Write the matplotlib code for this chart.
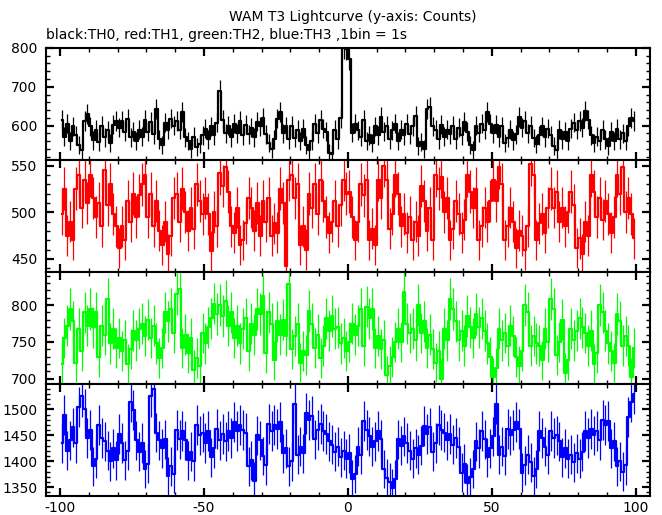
import numpy as np
import matplotlib
matplotlib.use('Agg')
import matplotlib.pyplot as plt
from matplotlib.ticker import MultipleLocator

# time bins, 1 s each
binStart = -99.5
binCount = 200

th0Counts = [
    615, 572, 605, 560, 598, 575, 550, 538, 612, 630,
    598, 562, 590, 558, 600, 570, 588, 555, 603, 612,
    595, 612, 585, 618, 570, 585, 560, 590, 572, 615,
    585, 610, 578, 642, 565, 550, 608, 590, 618, 600,
    612, 590, 635, 570, 560, 540, 572, 545, 552, 575,
    592, 565, 598, 575, 608, 690, 615, 580, 600, 570,
    605, 580, 612, 575, 602, 578, 595, 570, 610, 598,
    620, 578, 555, 540, 565, 618, 635, 580, 598, 565,
    600, 568, 590, 560, 592, 550, 538, 560, 605, 580,
    615, 592, 585, 530, 528, 590, 565, 620, 800, 798,
    772, 582, 605, 588, 572, 615, 560, 575, 555, 598,
    575, 622, 585, 600, 565, 588, 605, 560, 590, 575,
    605, 578, 598, 625, 548, 558, 540, 642, 648, 598,
    590, 565, 602, 572, 590, 578, 600, 565, 595, 575,
    610, 585, 550, 538, 600, 582, 605, 590, 635, 605,
    580, 602, 570, 598, 555, 568, 590, 562, 578, 622,
    595, 612, 580, 600, 568, 552, 575, 598, 570, 592,
    575, 548, 538, 590, 565, 585, 560, 592, 608, 590,
    612, 595, 638, 615, 575, 555, 572, 560, 590, 565,
    548, 585, 560, 592, 565, 580, 560, 598, 620, 612,
]

th1Counts = [
    498, 525, 475, 490, 470, 525, 540, 505, 535, 510,
    540, 515, 495, 510, 485, 545, 508, 530, 498, 485,
    462, 485, 470, 512, 490, 520, 495, 518, 530, 540,
    495, 520, 485, 512, 480, 465, 490, 455, 475, 515,
    520, 490, 525, 500, 480, 505, 482, 530, 512, 498,
    515, 498, 458, 500, 485, 542, 528, 548, 522, 485,
    478, 505, 465, 470, 488, 515, 505, 480, 510, 475,
    512, 490, 515, 475, 488, 478, 525, 510, 442, 535,
    540, 515, 530, 465, 485, 460, 520, 505, 530, 498,
    535, 512, 495, 478, 490, 512, 485, 508, 535, 520,
    522, 495, 470, 490, 530, 518, 535, 470, 482, 465,
    535, 515, 550, 535, 482, 498, 540, 520, 485, 498,
    478, 495, 470, 490, 475, 528, 512, 480, 505, 470,
    540, 525, 538, 500, 515, 470, 482, 512, 498, 478,
    492, 540, 522, 505, 525, 470, 485, 505, 490, 512,
    535, 512, 548, 530, 470, 485, 505, 490, 462, 480,
    475, 460, 485, 552, 540, 470, 488, 498, 478, 505,
    525, 505, 522, 490, 505, 485, 500, 522, 508, 462,
    472, 455, 490, 475, 540, 522, 495, 515, 492, 512,
    498, 478, 495, 540, 520, 548, 500, 515, 498, 472,
]

th2Counts = [
    720, 755, 772, 795, 778, 722, 768, 738, 790, 772,
    795, 770, 790, 730, 772, 760, 808, 748, 768, 742,
    755, 738, 752, 720, 740, 765, 752, 768, 775, 758,
    780, 755, 772, 748, 728, 742, 790, 778, 795, 762,
    815, 822, 742, 760, 735, 755, 712, 728, 718, 762,
    748, 770, 782, 802, 788, 800, 785, 805, 772, 790,
    755, 772, 748, 768, 782, 738, 775, 760, 795, 788,
    812, 735, 790, 775, 725, 778, 760, 780, 758, 828,
    740, 758, 775, 722, 738, 732, 792, 775, 742, 760,
    728, 745, 782, 765, 785, 768, 770, 748, 755, 738,
    750, 775, 760, 772, 795, 745, 798, 782, 795, 742,
    758, 740, 752, 705, 718, 730, 750, 768, 750, 818,
    775, 762, 768, 752, 800, 762, 778, 742, 760, 740,
    722, 738, 700, 768, 752, 808, 795, 778, 752, 765,
    745, 785, 770, 755, 788, 770, 782, 765, 748, 730,
    702, 715, 768, 752, 762, 745, 772, 758, 730, 718,
    738, 800, 790, 745, 758, 748, 745, 725, 768, 750,
    808, 795, 732, 750, 780, 708, 725, 768, 752, 765,
    782, 770, 762, 745, 765, 720, 735, 800, 790, 765,
    748, 738, 722, 788, 778, 745, 758, 745, 702, 742,
]

th3Counts = [
    1435, 1490, 1420, 1440, 1465, 1435, 1505, 1525, 1500, 1445,
    1460, 1390, 1405, 1470, 1445, 1438, 1420, 1400, 1425, 1402,
    1452, 1435, 1402, 1420, 1515, 1498, 1440, 1418, 1435, 1385,
    1395, 1525, 1540, 1455, 1440, 1425, 1442, 1372, 1390, 1375,
    1460, 1442, 1458, 1440, 1402, 1418, 1400, 1470, 1450, 1455,
    1435, 1458, 1408, 1425, 1462, 1440, 1452, 1438, 1458, 1445,
    1475, 1458, 1470, 1460, 1455, 1390, 1402, 1362, 1450, 1440,
    1410, 1392, 1472, 1458, 1470, 1462, 1475, 1415, 1425, 1390,
    1400, 1510, 1412, 1428, 1415, 1492, 1480, 1488, 1442, 1460,
    1472, 1458, 1452, 1438, 1432, 1418, 1428, 1408, 1420, 1405,
    1415, 1365, 1375, 1428, 1412, 1478, 1460, 1448, 1428, 1438,
    1458, 1442, 1385, 1368, 1360, 1348, 1365, 1442, 1430, 1448,
    1435, 1420, 1405, 1425, 1412, 1430, 1468, 1452, 1465, 1418,
    1435, 1470, 1460, 1455, 1440, 1452, 1432, 1445, 1428, 1378,
    1395, 1358, 1370, 1385, 1438, 1425, 1458, 1442, 1408, 1425,
    1448, 1510, 1412, 1428, 1410, 1462, 1450, 1460, 1475, 1462,
    1378, 1392, 1412, 1398, 1372, 1385, 1458, 1445, 1428, 1412,
    1458, 1445, 1450, 1438, 1408, 1425, 1405, 1412, 1398, 1415,
    1405, 1418, 1458, 1445, 1462, 1450, 1458, 1440, 1480, 1470,
    1478, 1425, 1438, 1390, 1400, 1380, 1392, 1485, 1515, 1530,
]

panelColors = ['black', '#ff0000', '#00ff00', '#0000ff']
panelLimits = [(512, 800), (436, 556), (693, 845), (1333, 1549)]
panelMajor = [100, 50, 50, 50]
panelMinor = [20, 10, 10, 10]
xTickValues = [-100, -50, 0, 50, 100]


def drawPanel(ax, counts, color, ylim, major, minor):
    t = binStart + np.arange(binCount)
    counts = np.array(counts, dtype=float)
    err = np.sqrt(counts)
    ax.vlines(t, counts - err, counts + err, color=color, linewidth=0.9)
    ax.plot(t, counts, drawstyle='steps-mid', color=color, linewidth=1.6)
    ax.set_xlim(-105, 105)
    ax.set_ylim(*ylim)
    ax.yaxis.set_major_locator(MultipleLocator(major))
    ax.yaxis.set_minor_locator(MultipleLocator(minor))
    ax.xaxis.set_major_locator(MultipleLocator(50))
    ax.xaxis.set_minor_locator(MultipleLocator(10))
    ax.tick_params(which='both', direction='in', top=True, right=True, labelsize=10)
    ax.tick_params(axis='y', pad=6)
    ax.tick_params(which='major', length=6, width=1.6)
    ax.tick_params(which='minor', length=3, width=1)
    for s in ax.spines.values():
        s.set_linewidth(1.5)


fig, axes = plt.subplots(4, 1, figsize=(6.62, 5.15), dpi=100, sharex=True)
plt.subplots_adjust(left=0.069, right=0.982, top=0.907, bottom=0.037, hspace=0)

allCounts = [th0Counts, th1Counts, th2Counts, th3Counts]
for i, ax in enumerate(axes):
    drawPanel(ax, allCounts[i], panelColors[i], panelLimits[i], panelMajor[i], panelMinor[i])

axes[-1].set_xticks(xTickValues)
axes[-1].set_xticklabels([str(v) for v in xTickValues])

fig.text(0.533, 0.967, 'WAM T3 Lightcurve (y-axis: Counts)', ha='center', va='center', fontsize=10)
fig.text(0.069, 0.932, 'black:TH0, red:TH1, green:TH2, blue:TH3 ,1bin = 1s', ha='left', va='center', fontsize=10)

plt.savefig('out.png', dpi=100)
